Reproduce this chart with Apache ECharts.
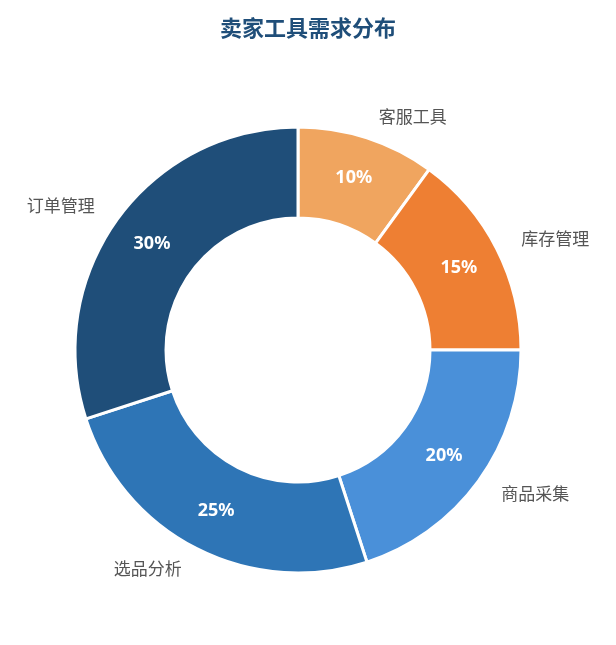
<!DOCTYPE html>
<html><head><meta charset="utf-8">
<script src="https://cdn.jsdelivr.net/npm/echarts@6/dist/echarts.min.js"></script>
<style>html,body{margin:0;padding:0;background:#fff}#c{width:616px;height:645px}</style>
</head><body><div id="c"></div>
<script>
const categories = ['客服工具','库存管理','商品采集','选品分析','订单管理'];
const values = [10,15,20,25,30];
const colors = ['#F0A55F','#EE7F33','#4A90D9','#2E75B6','#1F4E79'];
const data = categories.map((n,i)=>({name:n,value:values[i],itemStyle:{color:colors[i]}}));
const chart = echarts.init(document.getElementById('c'));
const base = {type:'pie',center:['298','350'],radius:[132,223],startAngle:90,clockwise:true,
  itemStyle:{borderColor:'#fff',borderWidth:3},data:data,silent:true,animation:false};
chart.setOption({
  title:{text:'卖家工具需求分布',left:'center',top:12,textStyle:{color:'#1F4E79',fontSize:22,fontWeight:'bold',fontFamily:'Noto Sans CJK SC'}},
  series:[
    Object.assign({},base,{label:{show:true,position:'outside',color:'#555',fontSize:17,fontFamily:'Noto Sans CJK SC'},
      labelLine:{show:false,length:22,length2:0}}),
    Object.assign({},base,{label:{show:true,position:'inside',formatter:'{c}%',color:'#fff',fontSize:18,fontWeight:'bold',fontFamily:'Noto Sans'}})
  ]
});
</script></body></html>
